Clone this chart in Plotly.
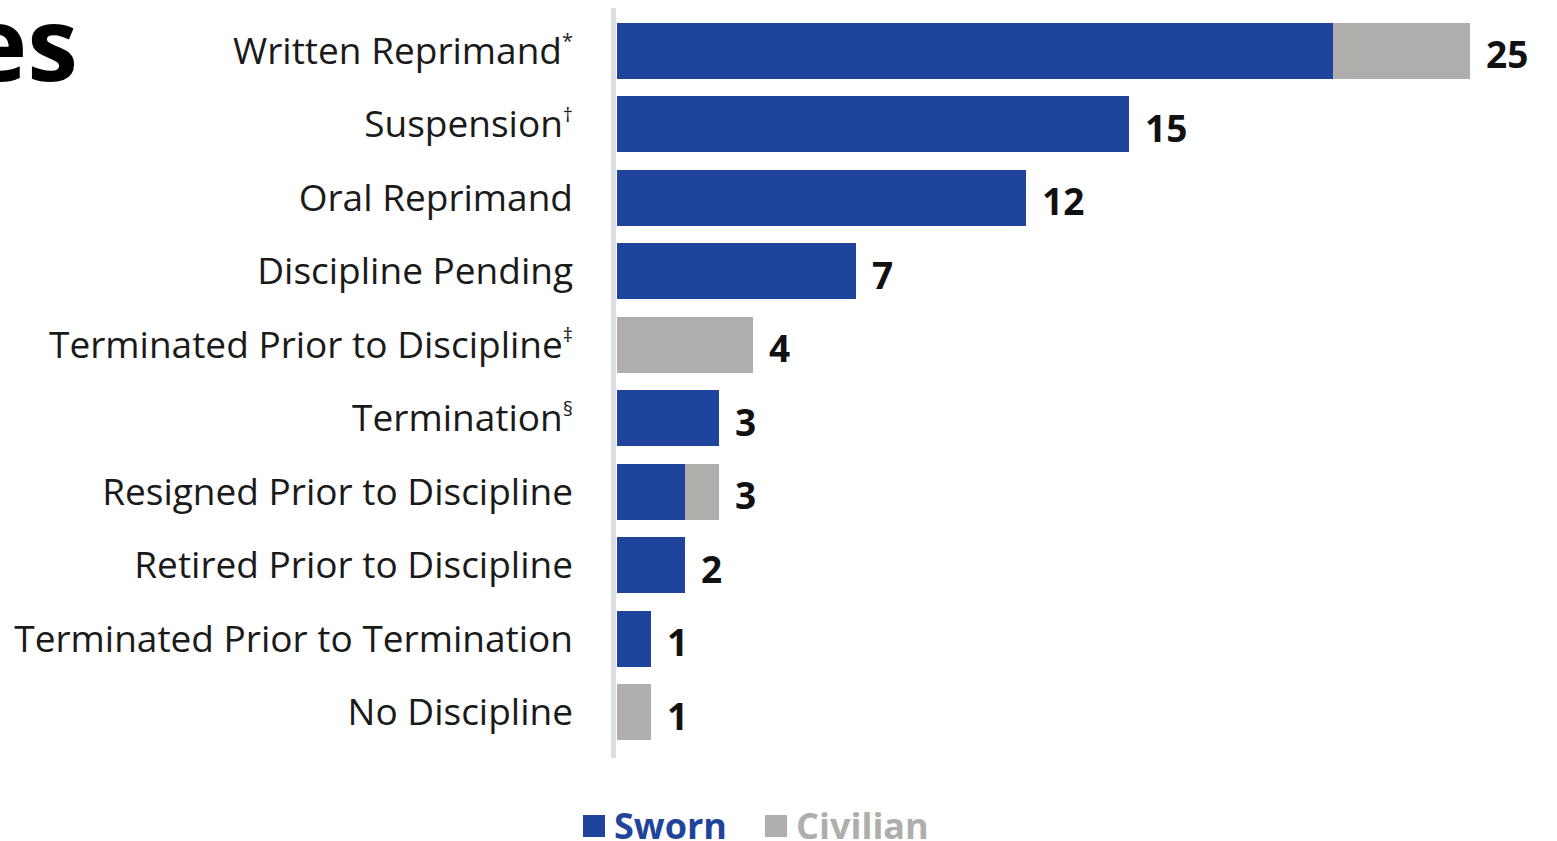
import plotly.graph_objects as go

SUP = "<sup><span style='font-size:20px'>{}</span></sup>"

categories = [
    "Written Reprimand" + SUP.format("*"),
    "Suspension" + SUP.format("†"),
    "Oral Reprimand",
    "Discipline Pending",
    "Terminated Prior to Discipline" + SUP.format("‡"),
    "Termination" + SUP.format("§"),
    "Resigned Prior to Discipline",
    "Retired Prior to Discipline",
    "Terminated Prior to Termination",
    "No Discipline",
]
sworn = [21, 15, 12, 7, 0, 3, 2, 2, 1, 0]
civilian = [4, 0, 0, 0, 4, 0, 1, 0, 0, 1]
totals = [s + c for s, c in zip(sworn, civilian)]

BLUE = "#1f449b"
GREY = "#b0adad"
FONT = "Open Sans"

WIDTH, HEIGHT = 1557, 841
LEFT, TOP, BOTTOM = 617, 14, 92
PLOT_W = WIDTH - LEFT
PLOT_H = HEIGHT - TOP - BOTTOM


def px_x(px):
    return (px - LEFT) / PLOT_W


def px_y(py):
    return (HEIGHT - BOTTOM - py) / PLOT_H


fig = go.Figure()
fig.add_trace(go.Bar(y=categories, x=sworn, orientation="h", name="Sworn",
                     marker={"color": BLUE, "line_width": 0}, width=0.76))
fig.add_trace(go.Bar(y=categories, x=civilian, orientation="h", name="Civilian",
                     marker={"color": GREY, "line_width": 0}, width=0.76))

for cat, total in zip(categories, totals):
    fig.add_annotation(x=total, y=cat, text=f"<b>{total}</b>", showarrow=False,
                       xanchor="left", xshift=14, yshift=-3,
                       font={"family": FONT, "size": 37, "color": "#111111"})

# axis line running a little past the plot area
fig.add_shape(type="line", xref="paper", yref="paper", x0=px_x(613.5), x1=px_x(613.5),
              y0=px_y(758), y1=px_y(8), line={"color": "#dcdde2", "width": 5})

# cropped title fragment on the left
fig.add_annotation(xref="paper", yref="paper", x=px_x(80), y=px_y(-30),
                   xanchor="right", yanchor="top", text="<b>es</b>", showarrow=False,
                   font={"family": FONT, "size": 102, "color": "#000000"})

# legend
for name, color, sq_x in [("Sworn", BLUE, 594), ("Civilian", GREY, 776)]:
    fig.add_shape(type="rect", xref="paper", yref="paper",
                  xsizemode="pixel", ysizemode="pixel",
                  xanchor=px_x(sq_x), yanchor=px_y(826),
                  x0=-11, x1=11, y0=-11, y1=11,
                  fillcolor=color, line_width=0)
    fig.add_annotation(xref="paper", yref="paper", x=px_x(sq_x + 18), y=px_y(825),
                       xanchor="left", yanchor="middle", showarrow=False,
                       text=f"<b>{name}</b>",
                       font={"family": FONT, "size": 36, "color": color})

fig.update_layout(
    barmode="stack",
    width=WIDTH,
    height=HEIGHT,
    margin={"l": LEFT, "r": 0, "t": TOP, "b": BOTTOM, "pad": 0},
    plot_bgcolor="white",
    paper_bgcolor="white",
    showlegend=False,
    xaxis={"range": [0, PLOT_W / 34.1], "visible": False},
    yaxis={
        "autorange": "reversed",
        "showgrid": False,
        "showline": False,
        "ticks": "",
        "ticklabelstandoff": 43,
        "tickfont": {"family": FONT, "size": 37, "color": "#1a1a1a"},
    },
)

# drop the browser's default body margin so the figure fills the window
fig.write_html(
    "out.html",
    config={"displayModeBar": False},
    post_script="document.body.style.margin = '0';",
)
